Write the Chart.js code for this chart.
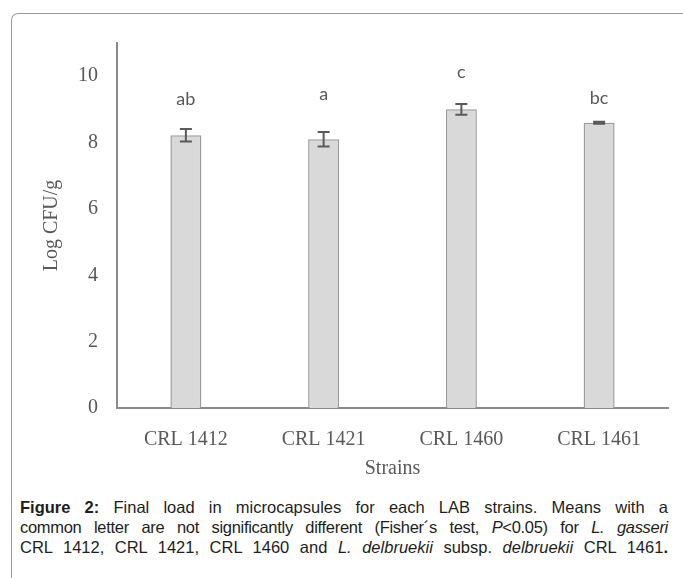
<!DOCTYPE html>
<html lang="en">
<head>
  <meta charset="UTF-8" />
  <title>Final load in microcapsules</title>
  <script src="https://cdn.jsdelivr.net/npm/chart.js"></script>
  <style>
    html, body { margin: 0; padding: 0; background: #fff; }
    body { width: 683px; height: 578px; position: relative; overflow: hidden; }
    .frame {
      position: absolute; left: 11px; top: 13px; width: 700px; height: 600px;
      border-left: 1.5px solid #9a9a9a; border-top: 1.5px solid #9a9a9a;
      border-top-left-radius: 7px;
    }
    #chartWrap { position: absolute; left: 0; top: 0; width: 683px; height: 490px; }
    .caption {
      position: absolute; left: 20px; top: 497px; width: 648px;
      font-family: "Liberation Sans", Arial, sans-serif; font-size: 16.5px;
      line-height: 20px; color: #1e1e1e;
    }
    .caption div { text-align: justify; text-align-last: justify; white-space: nowrap; }
  </style>
</head>
<body>
  <div class="frame"></div>
  <div id="chartWrap"><canvas id="loadChart" width="683" height="490"></canvas></div>
  <div class="caption">
    <div><b>Figure 2:</b> Final load in microcapsules for each LAB strains. Means with a</div>
    <div style="letter-spacing:-0.3px">common letter are not significantly different (Fisher´s test, <i>P</i>&lt;0.05) for <i>L. gasseri</i></div>
    <div>CRL 1412, CRL 1421, CRL 1460 and <i>L. delbruekii</i> subsp. <i>delbruekii</i> CRL 1461<b>.</b></div>
  </div>

  <script>
    const strains = ['CRL 1412', 'CRL 1421', 'CRL 1460', 'CRL 1461'];
    const logCfu = [8.22, 8.1, 9.0, 8.6];
    const errors = [0.19, 0.22, 0.16, 0.03];
    const letters = ['ab', 'a', 'c', 'bc'];
    const letterLevel = [9.3, 9.46, 10.12, 9.34];
    const yTicks = [0, 2, 4, 6, 8, 10];

    const grey = '#595959';

    // error bars and significance letters
    const errorBarPlugin = {
      id: 'errorBars',
      afterDatasetsDraw(chart) {
        const ctx = chart.ctx;
        const x = chart.scales.x;
        const y = chart.scales.y;
        ctx.save();
        ctx.strokeStyle = '#5a5a5a';
        ctx.lineWidth = 2;
        logCfu.forEach((v, i) => {
          const cx = x.getPixelForValue(i);
          const top = y.getPixelForValue(v + errors[i]);
          const bot = y.getPixelForValue(v - errors[i]);
          ctx.beginPath();
          ctx.moveTo(cx, top); ctx.lineTo(cx, bot);
          ctx.moveTo(cx - 6, top); ctx.lineTo(cx + 6, top);
          ctx.moveTo(cx - 6, bot); ctx.lineTo(cx + 6, bot);
          ctx.stroke();
        });
        ctx.fillStyle = grey;
        ctx.font = '18px Lato, "Open Sans", sans-serif';
        ctx.textAlign = 'center';
        ctx.textBaseline = 'middle';
        letters.forEach((t, i) => {
          ctx.fillText(t, x.getPixelForValue(i), y.getPixelForValue(letterLevel[i]));
        });
        ctx.restore();
      }
    };

    new Chart(document.getElementById('loadChart'), {
      type: 'bar',
      data: {
        labels: strains,
        datasets: [{
          data: logCfu,
          backgroundColor: '#d9d9d9',
          borderColor: '#9c9c9c',
          borderWidth: 1.5,
          barPercentage: 0.225,
          categoryPercentage: 1
        }]
      },
      options: {
        responsive: false,
        animation: false,
        layout: { padding: { left: 0, right: 15, top: 43, bottom: 0 } },
        plugins: { legend: { display: false }, tooltip: { enabled: false } },
        scales: {
          x: {
            grid: { display: false, drawTicks: false },
            border: { display: true, color: '#8a8a8a', width: 2 },
            ticks: { color: grey, padding: 20, font: { family: '"Liberation Serif", "Times New Roman", serif', size: 20 } },
            title: {
              display: true, text: 'Strains', color: grey,
              font: { family: '"Liberation Serif", "Times New Roman", serif', size: 20 },
              padding: { top: 0, bottom: 9 }
            },
            afterFit(scale) { scale.height = 82; }
          },
          y: {
            min: 0, max: 11,
            grid: { display: false, drawTicks: false },
            border: { display: true, color: '#8a8a8a', width: 2 },
            afterBuildTicks(scale) { scale.ticks = yTicks.map(v => ({ value: v })); },
            ticks: { color: grey, padding: 19, font: { family: '"Liberation Serif", "Times New Roman", serif', size: 20 } },
            title: {
              display: true, text: 'Log CFU/g', color: grey,
              font: { family: '"Liberation Serif", "Times New Roman", serif', size: 20 },
              padding: { top: 40, bottom: 0 }
            },
            afterFit(scale) { scale.width = 117; }
          }
        }
      },
      plugins: [errorBarPlugin]
    });
  </script>
</body>
</html>
